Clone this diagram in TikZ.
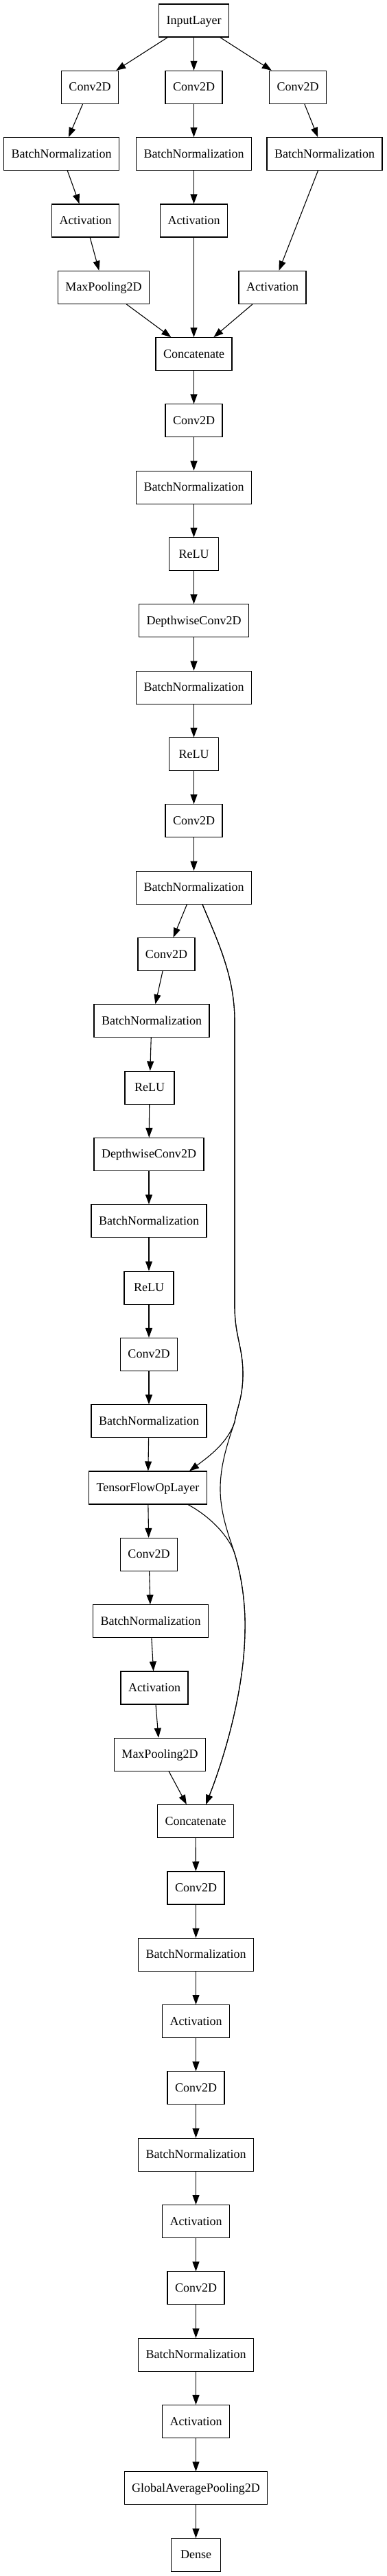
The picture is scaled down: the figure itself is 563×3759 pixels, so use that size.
\documentclass[tikz,border=0pt]{standalone}
\usepackage{fontspec}
\setmainfont{Liberation Serif}
\usetikzlibrary{arrows.meta}

\tikzset{
	layer/.style = {draw, rectangle, line width=1.1pt, minimum width=72pt, minimum height=48pt,
		inner xsep=11pt, inner ysep=0pt, text height=14pt, text depth=3pt,
		font=\fontsize{18pt}{20pt}\selectfont},
	edge/.style = {line width=1.1pt, -{Triangle[length=14pt,width=10pt]}}
}

\begin{document}
\begin{tikzpicture}[x=1pt, y=-1pt]

	\useasboundingbox (0,0) rectangle (563,3759);

	% three input branches
	\node[layer] (in) at (282.5,30) {InputLayer};
	\node[layer] (convA) at (131,127.3) {Conv2D};
	\node[layer] (convB) at (282.5,127.3) {Conv2D};
	\node[layer] (convC) at (434,127.3) {Conv2D};
	\node[layer] (bnA) at (89.5,224.6) {BatchNormalization};
	\node[layer] (bnB) at (282.5,224.6) {BatchNormalization};
	\node[layer] (bnC) at (473,224.6) {BatchNormalization};
	\node[layer] (actA) at (124.5,322) {Activation};
	\node[layer] (actB) at (282.5,322) {Activation};
	\node[layer] (poolA) at (151,419.3) {MaxPooling2D};
	\node[layer] (actC) at (397,419.3) {Activation};
	\node[layer] (cat1) at (282.5,516.6) {Concatenate};

	% first block
	\node[layer] (conv1) at (282.5,613.9) {Conv2D};
	\node[layer] (bn1) at (282.5,711.2) {BatchNormalization};
	\node[layer] (relu1) at (282.5,808.6) {ReLU};
	\node[layer] (dw1) at (282.5,905.9) {DepthwiseConv2D};
	\node[layer] (bn2) at (282.5,1003.2) {BatchNormalization};
	\node[layer] (relu2) at (282.5,1100.5) {ReLU};
	\node[layer] (conv2) at (282.5,1197.8) {Conv2D};
	\node[layer] (bn3) at (282.5,1295.2) {BatchNormalization};

	% second block
	\node[layer] (conv3) at (242.5,1392.5) {Conv2D};
	\node[layer] (bn4) at (221,1489.8) {BatchNormalization};
	\node[layer] (relu3) at (218,1587.1) {ReLU};
	\node[layer] (dw2) at (217,1684.4) {DepthwiseConv2D};
	\node[layer] (bn5) at (217,1781.8) {BatchNormalization};
	\node[layer] (relu4) at (217,1879.1) {ReLU};
	\node[layer] (conv4) at (217,1976.4) {Conv2D};
	\node[layer] (bn6) at (217,2073.7) {BatchNormalization};
	\node[layer] (tfop) at (215.5,2171) {TensorFlowOpLayer};

	% reduction
	\node[layer] (conv5) at (217,2268.4) {Conv2D};
	\node[layer] (bn7) at (219.5,2365.7) {BatchNormalization};
	\node[layer] (act1) at (225,2463) {Activation};
	\node[layer] (pool1) at (233,2560.3) {MaxPooling2D};
	\node[layer] (cat2) at (285,2657.6) {Concatenate};

	% head
	\node[layer] (conv6) at (285.5,2755) {Conv2D};
	\node[layer] (bn8) at (285.5,2852.3) {BatchNormalization};
	\node[layer] (act2) at (285.5,2949.6) {Activation};
	\node[layer] (conv7) at (285.5,3046.9) {Conv2D};
	\node[layer] (bn9) at (285.5,3144.2) {BatchNormalization};
	\node[layer] (act3) at (285.5,3241.6) {Activation};
	\node[layer] (conv8) at (285.5,3338.9) {Conv2D};
	\node[layer] (bn10) at (285.5,3436.2) {BatchNormalization};
	\node[layer] (act4) at (285.5,3533.5) {Activation};
	\node[layer] (gap) at (285.5,3630.8) {GlobalAveragePooling2D};
	\node[layer] (dense) at (285.5,3728.2) {Dense};

	\draw[edge] (in) -- (convA);
	\draw[edge] (in) -- (convB);
	\draw[edge] (in) -- (convC);
	\draw[edge] (convA) -- (bnA);
	\draw[edge] (convB) -- (bnB);
	\draw[edge] (convC) -- (bnC);
	\draw[edge] (bnA) -- (actA);
	\draw[edge] (bnB) -- (actB);
	\draw[edge] (bnC) -- (actC);
	\draw[edge] (actA) -- (poolA);
	\draw[edge] (poolA) -- (cat1);
	\draw[edge] (actB) -- (cat1);
	\draw[edge] (actC) -- (cat1);

	\draw[edge] (cat1) -- (conv1);
	\draw[edge] (conv1) -- (bn1);
	\draw[edge] (bn1) -- (relu1);
	\draw[edge] (relu1) -- (dw1);
	\draw[edge] (dw1) -- (bn2);
	\draw[edge] (bn2) -- (relu2);
	\draw[edge] (relu2) -- (conv2);
	\draw[edge] (conv2) -- (bn3);
	\draw[edge] (bn3) -- (conv3);
	\draw[edge] (conv3) -- (bn4);
	\draw[edge] (bn4) -- (relu3);
	\draw[edge] (relu3) -- (dw2);
	\draw[edge] (dw2) -- (bn5);
	\draw[edge] (bn5) -- (relu4);
	\draw[edge] (relu4) -- (conv4);
	\draw[edge] (conv4) -- (bn6);
	\draw[edge] (bn6) -- (tfop);
	\draw[edge] (tfop) -- (conv5);
	\draw[edge] (conv5) -- (bn7);
	\draw[edge] (bn7) -- (act1);
	\draw[edge] (act1) -- (pool1);
	\draw[edge] (pool1) -- (cat2);
	\draw[edge] (cat2) -- (conv6);
	\draw[edge] (conv6) -- (bn8);
	\draw[edge] (bn8) -- (act2);
	\draw[edge] (act2) -- (conv7);
	\draw[edge] (conv7) -- (bn9);
	\draw[edge] (bn9) -- (act3);
	\draw[edge] (act3) -- (conv8);
	\draw[edge] (conv8) -- (bn10);
	\draw[edge] (bn10) -- (act4);
	\draw[edge] (act4) -- (gap);
	\draw[edge] (gap) -- (dense);

	% skip connections
	\coordinate (s1) at (342,2075);
	\coordinate (s2) at (342,2267);

	\draw[edge] ([xshift=12.5pt]bn3.south) .. controls (318,1375) and (342,1425) .. (342,1490)
		-- (342,1905) .. controls (342,1950) and (354,1965) .. (354,2005)
		.. controls (354,2040) and (345,2055) .. (s1)
		.. controls (332,2105) and (305,2125) .. ([xshift=60.5pt]tfop.north);
	\draw[edge] ([xshift=58.5pt]tfop.south) .. controls (310,2215) and (335,2245) .. (s2)
		.. controls (352,2300) and (358,2340) .. (357,2380)
		.. controls (356,2470) and (325,2570) .. ([xshift=15pt]cat2.north);
	\draw[edge] ([xshift=12.5pt]bn3.south) .. controls (318,1375) and (342,1425) .. (342,1490)
		-- (342,1905) .. controls (342,1950) and (354,1965) .. (354,2005)
		.. controls (354,2040) and (345,2055) .. (s1)
		.. controls (330,2110) and (321,2140) .. (321,2173)
		.. controls (321,2210) and (335,2245) .. (s2)
		.. controls (352,2300) and (358,2340) .. (357,2380)
		.. controls (356,2470) and (325,2570) .. ([xshift=15pt]cat2.north);

\end{tikzpicture}
\end{document}
